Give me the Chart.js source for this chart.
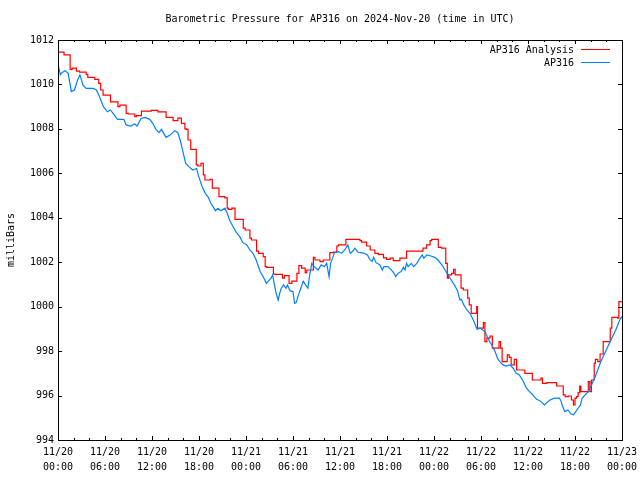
<!DOCTYPE html>
<html>
<head>
<meta charset="utf-8">
<title>Barometric Pressure for AP316</title>
<script src="https://cdn.jsdelivr.net/npm/chart.js@4/dist/chart.umd.min.js"></script>
<style>
  html, body { margin: 0; padding: 0; background: #fff; }
  canvas { display: block; }
</style>
</head>
<body>
<canvas id="pressureChart" width="640" height="480"></canvas>
<script>
// Hours since 2024-11-20 00:00 UTC, values in milliBars

// AP316 Analysis (red, stepped)
const analysisHours = [
  0, 0.77, 1.55, 1.8, 2.35, 2.75, 3.6, 3.8, 4.7, 5.2, 5.45, 5.75, 6.7, 7.65, 7.9, 8.7, 8.95, 9.8, 10.0, 10.65,
  11.9, 12.75, 13.8, 14.7, 15.3, 15.75, 16.2, 16.4, 16.6, 16.95, 17.65, 17.85, 18.25, 18.55, 18.75, 19.4, 19.7, 20.55, 21.3, 21.6,
  21.75, 22.2, 22.6, 23.65, 23.9, 24.5, 24.7, 25.35, 25.6, 26.2, 26.45, 26.65, 27.5, 27.7, 28.65, 28.9, 29.5, 29.85, 30.5, 30.75,
  31.1, 31.55, 31.75, 32.6, 32.8, 33.45, 33.85, 34.7, 35.15, 35.6, 35.8, 36.75, 38.55, 38.75, 39.4, 39.85, 40.45, 40.9, 41.55, 41.95,
  42.4, 42.8, 43.65, 44.5, 46.6, 47.05, 47.5, 47.7, 48.55, 48.95, 49.5, 49.7, 49.85, 50.25, 50.5, 50.7, 51.45, 51.75, 52.3, 52.5,
  52.75, 53.45, 53.55, 54.3, 54.5, 54.75, 55.15, 55.45, 56.3, 56.5, 56.7, 57.35, 57.6, 57.85, 58.25, 58.55, 59.6, 60.55, 61.65, 61.85,
  62.4, 63.65, 64.5, 64.75, 65.15, 65.55, 65.8, 66.0, 66.2, 66.4, 66.6, 66.75, 67.7, 67.9, 68.1, 68.45, 68.6, 68.9, 69.2, 69.6,
  70.5, 70.7, 71.45, 71.6, 72
];
const analysisValues = [
  1011.45, 1011.33, 1010.68, 1010.73, 1010.6, 1010.55, 1010.45, 1010.32, 1010.23, 1010.05, 1009.75, 1009.52, 1009.22, 1009.0, 1009.07, 1008.7, 1008.67, 1008.55, 1008.6, 1008.8,
  1008.83, 1008.77, 1008.52, 1008.37, 1008.48, 1008.25, 1008.0, 1007.98, 1007.5, 1007.08, 1006.38, 1006.33, 1006.45, 1005.93, 1005.7, 1005.73, 1005.33, 1004.95, 1004.9, 1004.43,
  1004.38, 1004.43, 1003.93, 1003.53, 1003.45, 1003.08, 1003.0, 1002.5, 1002.4, 1002.25, 1001.8, 1001.77, 1001.47, 1001.45, 1001.28, 1001.4, 1001.05, 1001.15, 1001.5, 1001.85,
  1001.73, 1001.53, 1001.65, 1002.22, 1002.1, 1002.03, 1002.1, 1002.43, 1002.45, 1002.73, 1002.78, 1003.03, 1002.97, 1002.9, 1002.73, 1002.55, 1002.4, 1002.35, 1002.2, 1002.13,
  1002.18, 1002.07, 1002.18, 1002.5, 1002.63, 1002.78, 1002.97, 1003.03, 1002.67, 1002.63, 1001.95, 1001.28, 1001.43, 1001.5, 1001.68, 1001.43, 1000.83, 1000.75, 1000.38, 1000.08,
  999.7, 1000.0, 999.03, 999.28, 998.43, 998.58, 998.68, 998.13, 998.43, 998.13, 997.53, 997.83, 997.72, 997.38, 997.63, 997.15, 997.0, 996.7, 996.78, 996.55,
  996.58, 996.43, 996.03, 995.95, 995.98, 995.8, 995.58, 995.88, 995.95, 996.13, 996.43, 996.18, 996.63, 996.18, 996.7, 997.45, 997.63, 997.53, 997.87, 998.43,
  999.03, 999.52, 999.48, 1000.23, 1000.23
];

// AP316 observations (blue)
const stationHours = [
  0, 0.3, 0.5, 0.9, 1.3, 1.7, 2.1, 2.5, 2.8, 3.2, 3.6, 4.5, 4.9, 5.3, 5.8, 6.3, 6.7, 7.2, 7.6, 8.4,
  8.7, 9.3, 9.8, 10.1, 10.6, 11.1, 11.7, 12.1, 12.5, 12.9, 13.2, 13.5, 13.8, 14.3, 14.9, 15.3, 15.6, 16.0, 16.3, 16.7,
  17.2, 17.7, 17.9, 18.4, 18.8, 19.2, 19.5, 19.8, 20.1, 20.4, 20.8, 21.3, 21.6, 21.9, 22.3, 22.7, 23.2, 23.6, 24.1, 24.5,
  24.9, 25.3, 25.8, 26.2, 26.6, 26.9, 27.2, 27.4, 27.6, 27.8, 28.1, 28.3, 28.5, 28.8, 29.1, 29.3, 29.6, 30.0, 30.2, 30.4,
  30.7, 31.0, 31.3, 31.6, 31.9, 32.1, 32.4, 32.7, 33.2, 33.6, 34.0, 34.3, 34.6, 34.8, 35.3, 35.8, 36.2, 36.6, 37.0, 37.3,
  37.6, 37.9, 38.3, 38.7, 39.1, 39.5, 39.8, 40.1, 40.3, 40.6, 41.1, 41.4, 41.6, 42.1, 42.5, 42.9, 43.1, 43.4, 43.8, 44.1,
  44.3, 44.5, 44.7, 45.1, 45.4, 45.8, 46.1, 46.5, 46.7, 47.1, 47.6, 48.1, 48.5, 49.0, 49.4, 49.8, 50.2, 50.6, 51.0, 51.3,
  51.5, 51.8, 52.2, 52.6, 53.1, 53.5, 53.9, 54.5, 54.8, 55.1, 55.5, 55.8, 56.1, 56.4, 56.8, 57.2, 57.7, 58.1, 58.5, 58.9,
  59.4, 59.8, 60.2, 60.6, 61.1, 61.5, 61.9, 62.1, 62.4, 62.8, 63.4, 64.0, 64.2, 64.4, 64.7, 65.1, 65.5, 65.8, 66.1, 66.4,
  66.7, 66.9, 67.3, 67.7, 68.1, 68.5, 68.9, 69.3, 69.7, 70.1, 70.5, 70.9, 71.3, 71.7, 72
];
const stationValues = [
  1010.92, 1010.43, 1010.53, 1010.62, 1010.5, 1009.68, 1009.75, 1010.2, 1010.43, 1009.97, 1009.82, 1009.82, 1009.75, 1009.45, 1009.0, 1008.77, 1008.85, 1008.62, 1008.43, 1008.43,
  1008.18, 1008.13, 1008.22, 1008.13, 1008.47, 1008.52, 1008.43, 1008.25, 1007.98, 1007.83, 1007.98, 1007.8, 1007.62, 1007.72, 1007.92, 1007.83, 1007.5, 1006.9, 1006.45, 1006.3,
  1006.15, 1006.22, 1005.93, 1005.4, 1005.1, 1004.92, 1004.65, 1004.5, 1004.32, 1004.43, 1004.32, 1004.43, 1004.2, 1003.9, 1003.63, 1003.38, 1003.15, 1002.88, 1002.78, 1002.55,
  1002.4, 1002.1, 1001.58, 1001.35, 1001.05, 1001.17, 1001.28, 1001.43, 1001.05, 1000.68, 1000.3, 1000.6, 1000.83, 1000.98, 1000.83, 1000.98, 1000.72, 1000.68, 1000.15, 1000.18,
  1000.53, 1000.83, 1001.15, 1000.98, 1000.83, 1001.35, 1001.95, 1001.8, 1001.65, 1001.88, 1001.8, 1001.95, 1001.35, 1001.95, 1002.43, 1002.48, 1002.4, 1002.55, 1002.78, 1002.4,
  1002.48, 1002.63, 1002.45, 1002.43, 1002.4, 1002.33, 1002.13, 1002.03, 1002.22, 1001.98, 1001.88, 1001.65, 1001.8, 1001.8, 1001.68, 1001.5, 1001.35, 1001.5, 1001.58, 1001.77,
  1001.65, 1001.95, 1001.8, 1001.95, 1001.8, 1001.95, 1002.13, 1002.33, 1002.18, 1002.33, 1002.28, 1002.22, 1002.1, 1001.88, 1001.65, 1001.43, 1001.2, 1000.98, 1000.72, 1000.3,
  1000.33, 1000.08, 999.85, 999.7, 999.33, 998.98, 999.03, 998.88, 998.65, 998.43, 998.2, 997.98, 997.68, 997.53, 997.38, 997.33, 997.38, 997.23, 997.0, 996.93,
  996.63, 996.33, 996.18, 996.03, 995.83, 995.77, 995.65, 995.58, 995.68, 995.8, 995.88, 995.88, 995.77, 995.53, 995.28, 995.35, 995.17, 995.13, 995.28, 995.43,
  995.58, 995.88, 996.03, 996.18, 996.48, 996.78, 997.15, 997.53, 997.83, 998.13, 998.43, 998.73, 999.03, 999.4, 999.55
];

// x tick labels, one per 6 hours
const tickDates = ['11/20', '11/20', '11/20', '11/20', '11/21', '11/21', '11/21', '11/21', '11/22', '11/22', '11/22', '11/22', '11/23'];
const tickTimes = ['00:00', '06:00', '12:00', '18:00', '00:00', '06:00', '12:00', '18:00', '00:00', '06:00', '12:00', '18:00', '00:00'];

const seriesNames = ['AP316 Analysis', 'AP316'];
const seriesColors = ['#ff0000', '#0080ff'];

const FONT = '10px "DejaVu Sans Mono", monospace';

function toPoints(xs, ys) {
  return xs.map((h, i) => ({ x: h, y: ys[i] }));
}

// gnuplot style border, inward ticks, title, axis label and key
const gnuplotFrame = {
  id: 'gnuplotFrame',
  afterDraw(chart) {
    const { ctx, chartArea: a, scales: { x, y } } = chart;
    ctx.save();
    ctx.strokeStyle = '#000';
    ctx.lineWidth = 1;
    ctx.beginPath();
    for (let h = 0; h <= 72; h += 2) {
      const px = Math.round(x.getPixelForValue(h)) + 0.5;
      const len = h % 6 === 0 ? 4 : 2;
      ctx.moveTo(px, a.bottom); ctx.lineTo(px, a.bottom - len);
      ctx.moveTo(px, a.top); ctx.lineTo(px, a.top + len);
    }
    for (let v = 994; v <= 1012; v += 2) {
      const py = Math.round(y.getPixelForValue(v)) + 0.5;
      ctx.moveTo(a.left, py); ctx.lineTo(a.left + 4, py);
      ctx.moveTo(a.right, py); ctx.lineTo(a.right - 4, py);
    }
    ctx.stroke();
    ctx.strokeRect(a.left + 0.5, a.top + 0.5, a.right - a.left, a.bottom - a.top);

    ctx.fillStyle = '#000';
    ctx.font = FONT;
    ctx.textAlign = 'center';
    ctx.textBaseline = 'middle';
    ctx.fillText('Barometric Pressure for AP316 on 2024-Nov-20 (time in UTC)', (a.left + a.right) / 2, 19);

    ctx.save();
    ctx.translate(11, (a.top + a.bottom) / 2);
    ctx.rotate(-Math.PI / 2);
    ctx.fillText('milliBars', 0, 0);
    ctx.restore();

    // key
    ctx.textAlign = 'right';
    seriesNames.forEach((name, i) => {
      const ky = 50 + i * 13;
      ctx.fillStyle = '#000';
      ctx.fillText(name, 574, ky);
      ctx.strokeStyle = seriesColors[i];
      ctx.beginPath();
      ctx.moveTo(581, ky - 0.5);
      ctx.lineTo(610, ky - 0.5);
      ctx.stroke();
    });
    ctx.restore();
  }
};

const ctx = document.getElementById('pressureChart').getContext('2d');
const pressureChart = new Chart(ctx, {
  type: 'line',
  data: {
    datasets: [
      {
        label: seriesNames[1],
        data: toPoints(stationHours, stationValues),
        borderColor: seriesColors[1],
        borderWidth: 1.2,
        pointRadius: 0,
        tension: 0
      },
      {
        label: seriesNames[0],
        data: toPoints(analysisHours, analysisValues),
        borderColor: seriesColors[0],
        borderWidth: 1.2,
        pointRadius: 0,
        stepped: true
      }
    ]
  },
  options: {
    responsive: false,
    animation: false,
    devicePixelRatio: 1,
    layout: { padding: { top: 40, right: 18, bottom: 0, left: 0 } },
    plugins: {
      legend: { display: false },
      title: { display: false },
      tooltip: { enabled: false }
    },
    scales: {
      x: {
        type: 'linear',
        min: 0,
        max: 72,
        grid: { display: false, drawTicks: false },
        border: { display: false },
        ticks: {
          stepSize: 6,
          autoSkip: false,
          maxRotation: 0,
          padding: 5,
          color: '#000',
          font: { family: '"DejaVu Sans Mono", monospace', size: 10, lineHeight: 1.5 },
          callback: (v) => {
            const i = Math.round(v / 6);
            return [tickDates[i], tickTimes[i]];
          }
        },
        afterFit: (s) => { s.height = 40; s.paddingLeft = 0; s.paddingRight = 0; }
      },
      y: {
        min: 994,
        max: 1012,
        grid: { display: false, drawTicks: false },
        border: { display: false },
        ticks: {
          stepSize: 2,
          padding: 4,
          color: '#000',
          font: { family: '"DejaVu Sans Mono", monospace', size: 10 },
          callback: (v) => String(v)
        },
        afterFit: (s) => { s.width = 58; s.paddingTop = 0; s.paddingBottom = 0; }
      }
    }
  },
  plugins: [gnuplotFrame]
});
</script>
</body>
</html>
